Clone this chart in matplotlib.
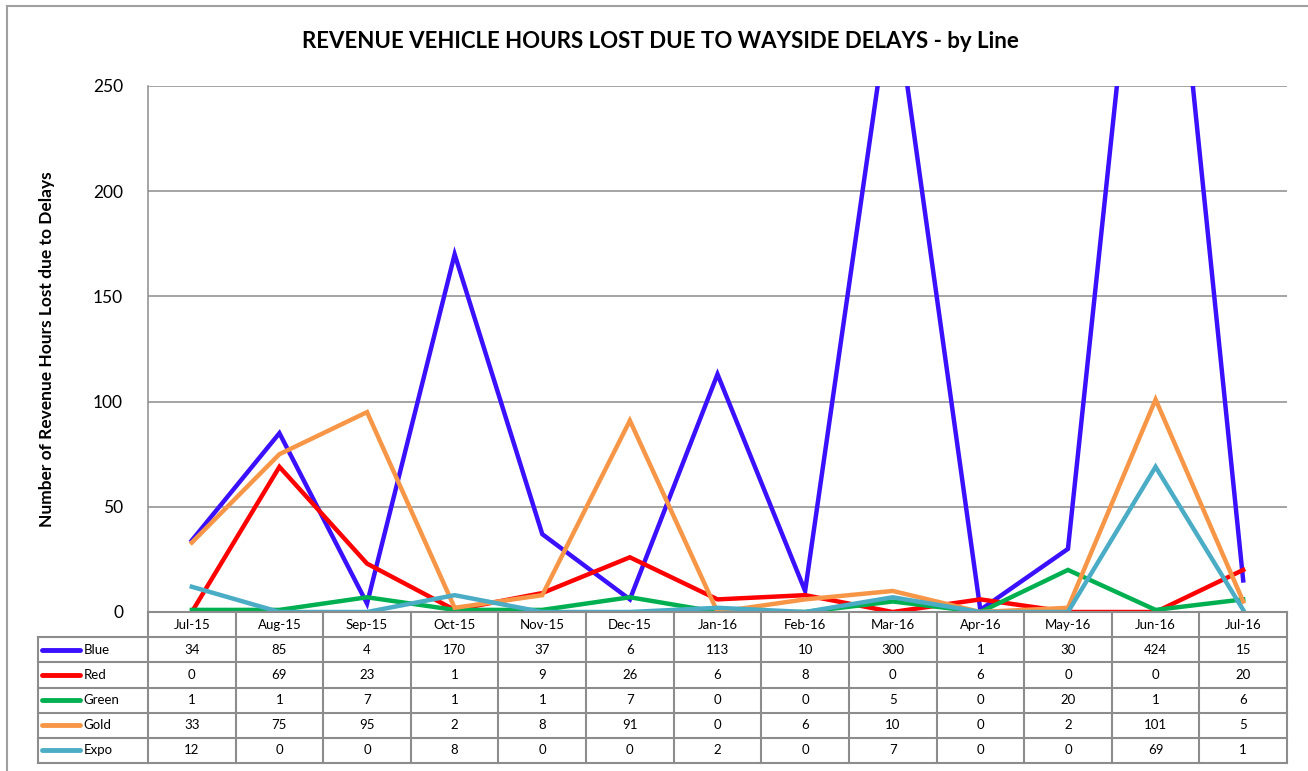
import matplotlib
matplotlib.use('Agg')
import matplotlib.pyplot as plt
from matplotlib.lines import Line2D

plt.rcParams['font.family'] = ['Lato', 'DejaVu Sans']

# Datos del gráfico
months = ['Jul-15', 'Aug-15', 'Sep-15', 'Oct-15', 'Nov-15', 'Dec-15', 'Jan-16',
          'Feb-16', 'Mar-16', 'Apr-16', 'May-16', 'Jun-16', 'Jul-16']
blue = [34, 85, 4, 170, 37, 6, 113, 10, 300, 1, 30, 424, 15]
red = [0, 69, 23, 1, 9, 26, 6, 8, 0, 6, 0, 0, 20]
green = [1, 1, 7, 1, 1, 7, 0, 0, 5, 0, 20, 1, 6]
gold = [33, 75, 95, 2, 8, 91, 0, 6, 10, 0, 2, 101, 5]
expo = [12, 0, 0, 8, 0, 0, 2, 0, 7, 0, 0, 69, 1]

lines = ['Blue', 'Red', 'Green', 'Gold', 'Expo']
series = [blue, red, green, gold, expo]
colors = ['#3A10FF', '#FF0000', '#00B050', '#F79646', '#4BACC6']
y_ticks = [0, 50, 100, 150, 200, 250]

W, H = 1308, 771
fig = plt.figure(figsize=(W / 100, H / 100), dpi=100)
grid_col = '#8C8C8C'


def px_box(x0, y0, x1, y1):
    # caja en pixeles -> coordenadas de figura
    return [x0 / W, 1 - y1 / H, (x1 - x0) / W, (y1 - y0) / H]


# borde del gráfico
fig.add_artist(Line2D([7 / W, 7 / W], [0, 1 - 6 / H], color='#A0A0A0', lw=1.5))
fig.add_artist(Line2D([7 / W, 1], [1 - 6 / H, 1 - 6 / H], color='#A0A0A0', lw=1.5))

# gráfico principal
ax = fig.add_axes(px_box(148, 86, 1287, 612))
n = len(months)
x = list(range(n))
for name, vals, c in zip(lines, series, colors):
    ax.plot(x, vals, color=c, lw=3.2, solid_joinstyle='miter', clip_on=True)
ax.set_xlim(-0.5, n - 0.5)
ax.set_ylim(0, 250)
ax.set_yticks(y_ticks)
ax.set_yticklabels([str(v) for v in y_ticks], fontsize=12.5)
ax.tick_params(axis='y', length=0, pad=18)
ax.set_xticks([])
ax.grid(axis='y', color=grid_col, lw=1.1)
ax.set_axisbelow(True)
for s in ['top', 'right', 'bottom']:
    ax.spines[s].set_visible(False)
ax.spines['left'].set_color(grid_col)
ax.spines['left'].set_linewidth(1.1)
ax.set_ylabel('Number of Revenue Hours Lost due to Delays', fontsize=12.5,
              fontweight='bold')
ax.yaxis.set_label_coords(-0.0815, 0.5)

fig.text(660 / W, 1 - 42 / H,
         'REVENUE VEHICLE HOURS LOST DUE TO WAYSIDE DELAYS - by Line',
         ha='center', va='center', fontsize=16, fontweight='bold')

# tabla de datos
lab_w = (148 - 38) / ((1287 - 148) / n)
tx = fig.add_axes(px_box(38, 612, 1287, 763))
tx.set_xlim(-0.5 - lab_w, n - 0.5)
nrows = len(lines) + 1
tx.set_ylim(nrows, 0)
tx.axis('off')
tc = dict(color=grid_col, lw=1.5, clip_on=False)
# lineas horizontales
tx.plot([-0.5, n - 0.5], [0, 0], **tc)
for r in range(1, nrows + 1):
    tx.plot([-0.5 - lab_w, n - 0.5], [r, r], **tc)
# lineas verticales
tx.plot([-0.5 - lab_w, -0.5 - lab_w], [1, nrows], **tc)
for c in range(n + 1):
    tx.plot([c - 0.5, c - 0.5], [0, nrows], **tc)
for i, m in enumerate(months):
    tx.text(i, 0.5, m, ha='center', va='center', fontsize=9.5)
for r, (name, vals, c) in enumerate(zip(lines, series, colors), start=1):
    x0 = -0.5 - lab_w + 0.04
    tx.plot([x0, x0 + 0.44], [r + 0.5, r + 0.5], color=c, lw=3.5,
            solid_capstyle='round')
    tx.text(x0 + 0.48, r + 0.5, name, ha='left', va='center', fontsize=9.5)
    for i, v in enumerate(vals):
        tx.text(i, r + 0.5, str(v), ha='center', va='center', fontsize=9.5)

fig.savefig('out.png', dpi=100)
